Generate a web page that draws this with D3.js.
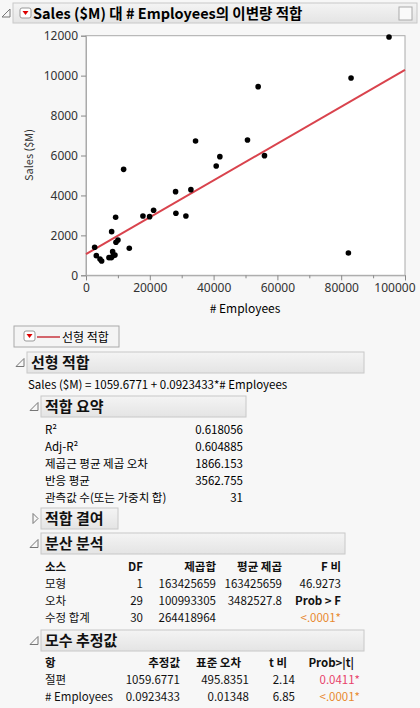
<!DOCTYPE html>
<html><head><meta charset="utf-8">
<script src="https://cdn.jsdelivr.net/npm/d3@7"></script>
<style>
body{margin:0;background:#f7f7f7;font-family:"Noto Sans CJK KR","Noto Sans",sans-serif;}
</style></head>
<body><svg id="c" width="420" height="708"></svg>
<script>
// data
const employees = [2714,3236,4384,4906,7203,7933,8037,8351,8559,9081,9290,9395,10021,11795,13570,17850,19937,21190,28080,28184,31315,32881,34342,40814,41962,50626,53967,55950,82255,83090,94990];
const sales = [1402,985,818,718,885,885,2186,1185,985,1018,2904,1652,1769,5307,1352,2971,2937,3255,4189,3104,2971,4289,6726,5474,5942,6776,9447,5992,1118,9881,11933];
const fitCoef = [1059.6771, 0.0923433];
const xTicks = [0,20000,40000,60000,80000,100000];
const yTicks = [0,2000,4000,6000,8000,10000,12000];

const summaryRows = [["R²","0.618056"],["Adj-R²","0.604885"],["제곱근 평균 제곱 오차","1866.153"],["반응 평균","3562.755"],["관측값 수(또는 가중치 합)","31"]];
const anovaHead = ["소스","DF","제곱합","평균 제곱","F 비"];
const anovaRows = [["모형","1","163425659","163425659","46.9273"],["오차","29","100993305","3482527.8","Prob > F"],["수정 합계","30","264418964","","<.0001*"]];
const paramHead = ["항","추정값","표준 오차","t 비","Prob>|t|"];
const paramRows = [["절편","1059.6771","495.8351","2.14","0.0411*"],["# Employees","0.0923433","0.01348","6.85","<.0001*"]];

const svg = d3.select("#c");
const grad = svg.append("defs").append("linearGradient").attr("id","hg").attr("x1",0).attr("x2",0).attr("y1",0).attr("y2",1);
grad.append("stop").attr("offset","0").attr("stop-color","#f4f4f4");
grad.append("stop").attr("offset","1").attr("stop-color","#e4e4e4");

function bar(x,y,w,h,label,size,open){
    svg.append("rect").attr("x",x).attr("y",y).attr("width",w).attr("height",h)
        .attr("fill","url(#hg)").attr("stroke","#c8c8c8");
    svg.append("text").attr("x",x+4).attr("y",y+h-5).attr("font-size",size).attr("font-weight","bold").attr("fill","#111").text(label);
    // disclosure triangle
    if (open) svg.append("path").attr("d",`M${x-3},${y+h/2-4} L${x-3},${y+h/2+4} L${x-11},${y+h/2+4} Z`).attr("fill","none").attr("stroke","#777");
    else svg.append("path").attr("d",`M${x-8},${y+h/2-5} L${x-3},${y+h/2} L${x-8},${y+h/2+5} Z`).attr("fill","none").attr("stroke","#777");
}
function redMenu(x,y){
    svg.append("rect").attr("x",x).attr("y",y).attr("width",11).attr("height",10).attr("rx",2).attr("fill","#fff").attr("stroke","#999");
    svg.append("path").attr("d",`M${x+2.5},${y+3} L${x+8.5},${y+3} L${x+5.5},${y+7} Z`).attr("fill","#d00");
}

// title
bar(13,3,404,20,"",15,true);
redMenu(20,8);
svg.append("text").attr("x",33).attr("y",19).attr("font-size",14.5).attr("font-weight","bold").text("Sales ($M) 대 # Employees의 이변량 적합");
svg.append("rect").attr("x",399).attr("y",7).attr("width",13).attr("height",13).attr("fill","#fafafa").attr("stroke","#aaa");

// scatter
const x = d3.scaleLinear().domain([0,100000]).range([86,405]);
const y = d3.scaleLinear().domain([0,12000]).range([275.3,35.7]);
svg.append("rect").attr("x",86).attr("y",35.7).attr("width",319).attr("height",239.6).attr("fill","#fff").attr("stroke","#aaa");
const xa = svg.append("g").attr("transform","translate(0,275.3)")
    .call(d3.axisBottom(x).tickValues(xTicks).tickFormat(d3.format("d")).tickSize(5));
svg.append("g").attr("transform","translate(0,275.3)")
    .call(d3.axisBottom(x).tickValues(d3.range(10000,100000,20000)).tickFormat("").tickSize(3))
    .call(g=>g.select(".domain").remove()).selectAll("line").attr("stroke","#888");
const ya = svg.append("g").attr("transform","translate(86,0)")
    .call(d3.axisLeft(y).tickValues(yTicks).tickFormat(d3.format("d")).tickSize(5));
[xa,ya].forEach(a=>{a.select(".domain").attr("stroke","#aaa");a.selectAll("line").attr("stroke","#888");
    a.selectAll("text").attr("font-size",12).attr("fill","#333").attr("font-family","Noto Sans");});
// last x label kept inside the window
xa.selectAll(".tick").filter(d=>d==100000).select("text").attr("text-anchor","end").attr("dx",10);
svg.append("text").attr("x",245).attr("y",313).attr("text-anchor","middle").attr("font-size",12).text("# Employees");
svg.append("text").attr("transform","translate(33,155) rotate(-90)").attr("text-anchor","middle").attr("font-size",11).attr("fill","#333").text("Sales ($M)");
svg.append("line").attr("x1",x(0)).attr("x2",x(100000)).attr("y1",y(fitCoef[0])).attr("y2",y(fitCoef[0]+fitCoef[1]*100000))
    .attr("stroke","#d9434d").attr("stroke-width",2);
svg.append("g").selectAll("circle").data(employees).join("circle")
    .attr("cx",d=>x(d)).attr("cy",(d,i)=>y(sales[i])).attr("r",2.8).attr("fill","#000");

// legend
svg.append("rect").attr("x",14).attr("y",326).attr("width",105).attr("height",21).attr("fill","#f4f4f4").attr("stroke","#aaa");
redMenu(24,331);
svg.append("line").attr("x1",37).attr("x2",60).attr("y1",337).attr("y2",337).attr("stroke","#c8363f").attr("stroke-width",1.5);
svg.append("text").attr("x",62).attr("y",342).attr("font-size",12).text("선형 적합");

// report
bar(27,352,337,21,"선형 적합",15,true);
svg.append("text").attr("x",28).attr("y",389).attr("font-size",11.5).text("Sales ($M) = 1059.6771 + 0.0923433*# Employees");

bar(41,396,205,21,"적합 요약",15,true);
summaryRows.forEach((r,i)=>{
    const yy = 434+i*17;
    svg.append("text").attr("x",45).attr("y",yy).attr("font-size",11.5).text(r[0]);
    svg.append("text").attr("x",243).attr("y",yy).attr("font-size",11.5).attr("text-anchor","end").text(r[1]);
});
bar(41,508,77,21,"적합 결여",15,false);

bar(41,533,304,21,"분산 분석",15,true);
const aX = [45,143,216,282,341];
function row(cells,yy,xs,bold,colors){
    cells.forEach((c,j)=>{
        svg.append("text").attr("x",xs[j]).attr("y",yy).attr("font-size",11.5)
            .attr("text-anchor",j==0?"start":"end").attr("font-weight",bold?"bold":"normal")
            .attr("fill",(colors&&colors[j])||"#111").text(c);
    });
}
row(anovaHead,571,aX,true);
anovaRows.forEach((r,i)=>row(r,588+i*17,aX,false,i==2?[0,0,0,0,"#e8892f"]:null));
svg.selectAll("text").filter(function(){return this.textContent=="Prob > F";}).attr("font-weight","bold");

bar(41,630,323,21,"모수 추정값",15,true);
row(paramHead,667,[45,180,241,287,354],true);
paramRows.forEach((r,i)=>row(r,684+i*17,[45,180,249,295,360],false,[0,0,0,0,i==0?"#e8416a":"#e8892f"]));
</script></body></html>
